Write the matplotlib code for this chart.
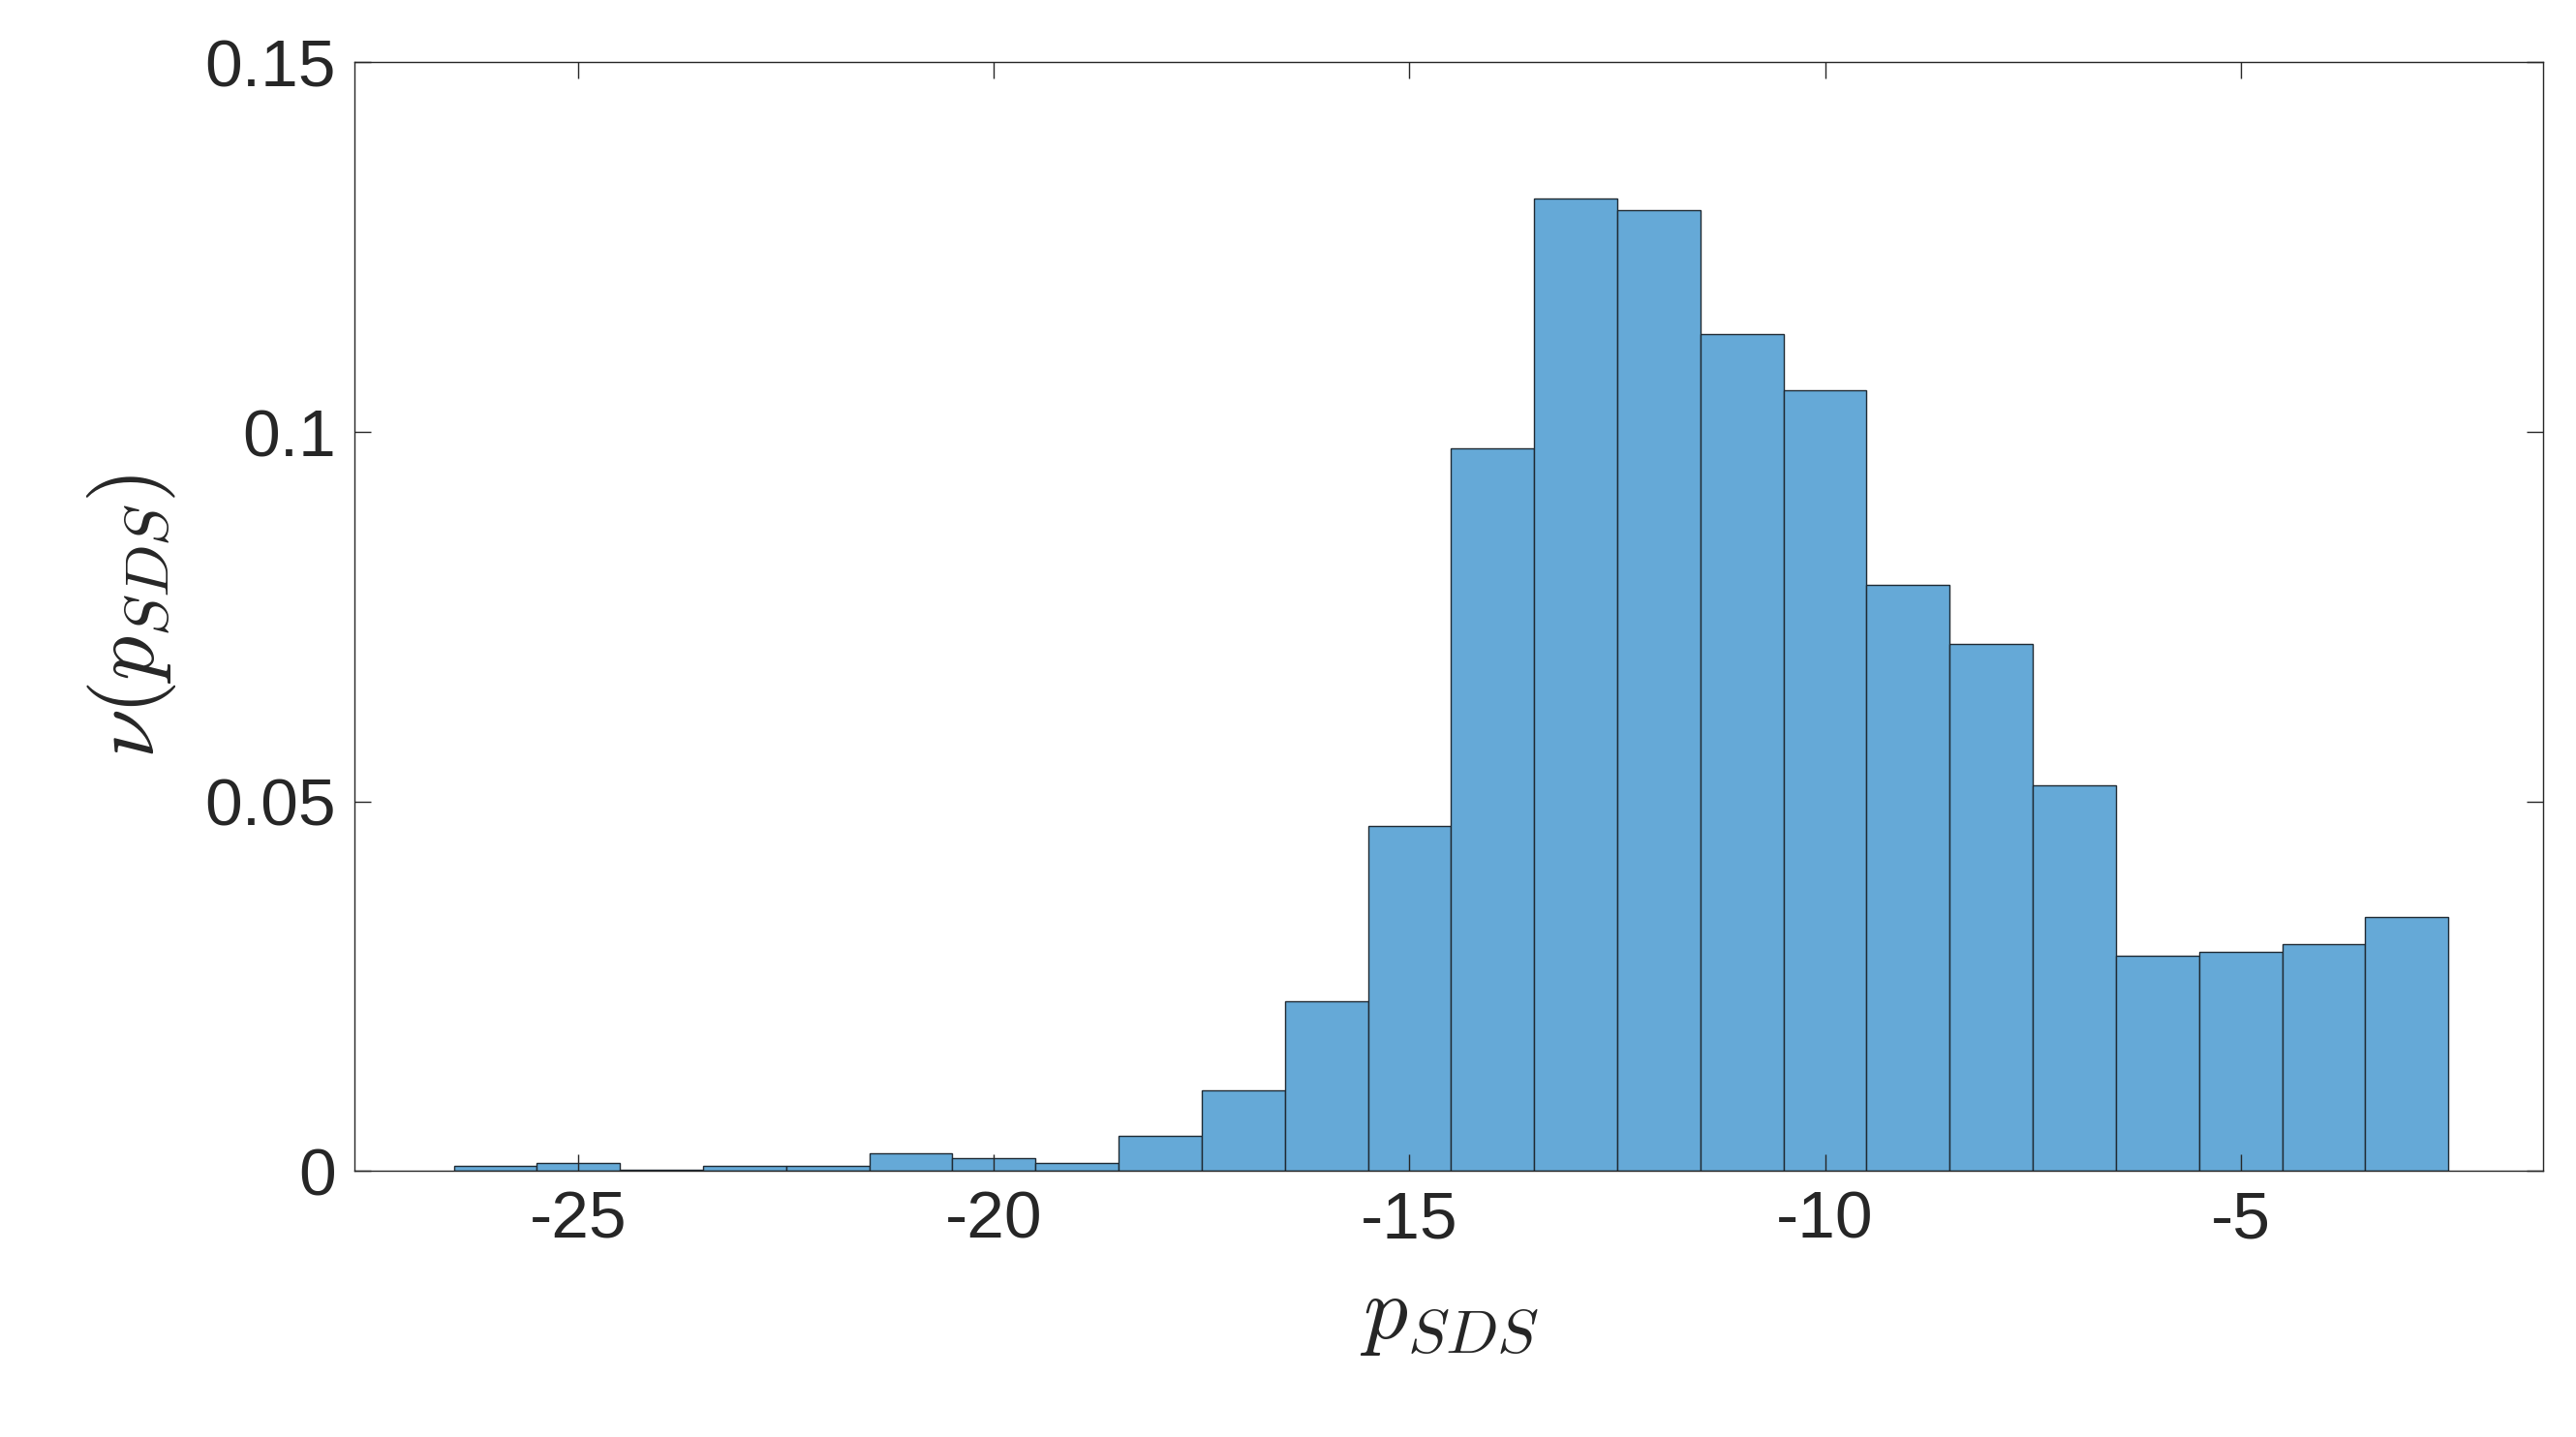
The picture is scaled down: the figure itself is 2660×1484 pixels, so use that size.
import matplotlib.pyplot as plt
import numpy as np

plt.rcParams['mathtext.fontset'] = 'cm'

# bin left edges and normalized frequencies
edges = np.arange(-26.5, -2.0, 1.0)
freq = [0.0007, 0.0011, 0.0002, 0.0007, 0.0007, 0.0024, 0.0018, 0.0011,
        0.0047, 0.0109, 0.0229, 0.0467, 0.0978, 0.1316, 0.1300, 0.1133,
        0.1056, 0.0793, 0.0713, 0.0522, 0.0291, 0.0296, 0.0307, 0.0344]
xticks = [-25, -20, -15, -10, -5]
yticks = [0, 0.05, 0.1, 0.15]
yticklabels = ['0', '0.05', '0.1', '0.15']

fig = plt.figure(figsize=(26.6, 14.84), dpi=100)
ax = fig.add_axes([216/1568, 1-713/875, (1548-216)/1568, (713-38)/875])
ax.bar(edges[:len(freq)], freq, width=1.0, align='edge', color='#65a9d7',
       edgecolor='#1f2a33', linewidth=1.0)
ax.set_xlim(-27.69, -1.36)
ax.set_ylim(0, 0.15)
ax.set_xticks(xticks)
ax.set_xticklabels([str(t) for t in xticks])
ax.set_yticks(yticks)
ax.set_yticklabels(yticklabels)
ax.tick_params(direction='in', length=12, width=1, top=True, right=True,
               labelsize=50, colors='#262626', pad=14)
for lab in ax.get_xticklabels() + ax.get_yticklabels():
    lab.set_fontfamily('Liberation Sans')
    lab.set_color('#262626')
for s in ax.spines.values():
    s.set_color('#262626')
    s.set_linewidth(1)
ax.set_xlabel(r'$p_{SDS}$', fontsize=66, color='#262626', labelpad=14)
ax.set_ylabel(r'$\nu(p_{SDS})$', fontsize=66, color='#262626', labelpad=20)
fig.savefig('out.png', dpi=100)
